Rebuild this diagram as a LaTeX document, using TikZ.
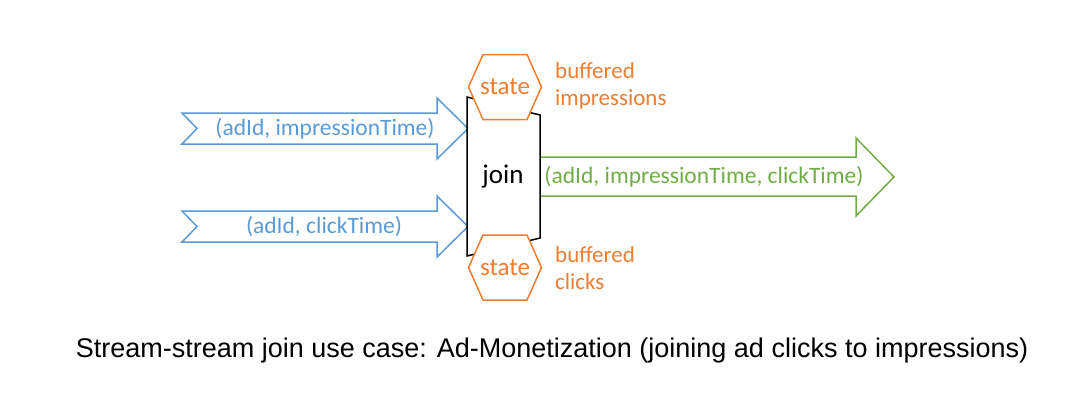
\documentclass[tikz,border=0pt]{standalone}
\usepackage{fontspec}
\setmainfont{Carlito}
\newfontfamily\captionfont{Liberation Sans}
\definecolor{streamblue}{RGB}{91,155,213}
\definecolor{stateorange}{RGB}{237,125,49}
\definecolor{outgreen}{RGB}{112,173,71}
\begin{document}
\begin{tikzpicture}[x=1pt, y=-1pt]
        % Define styles
        \tikzstyle{inflow}=[draw=streamblue, line width=1.5pt, fill=white]
        \tikzstyle{outflow}=[draw=outgreen, line width=1.5pt, fill=white]
        \tikzstyle{joinbox}=[draw=black, line width=1.5pt, fill=white]
        \tikzstyle{statebox}=[draw=stateorange, line width=1.5pt, fill=white]
        \tikzstyle{flowtext}=[inner sep=0pt, font=\fontsize{23.5}{27}\selectfont]
        \tikzstyle{notetext}=[inner sep=0pt, font=\fontsize{23}{27}\selectfont, text=stateorange, align=left, anchor=west]

        \useasboundingbox (0,0) rectangle (1080,400);

        % Input streams
        \foreach \cy in {128.5, 226.5} {
            \draw[inflow] (182,\cy-15.5) -- (437,\cy-15.5) -- (437,\cy-30.5) -- (468,\cy)
                -- (437,\cy+30.5) -- (437,\cy+15.5) -- (182,\cy+15.5) -- (197,\cy) -- cycle;
        }
        \node[flowtext, text=streamblue] (impressions) at (325,128.5) {(adId, impressionTime)};
        \node[flowtext, text=streamblue] (clicks) at (324,226.5) {(adId, clickTime)};

        % Output stream
        \draw[outflow] (540,157) -- (856,157) -- (856,138) -- (894,177)
            -- (856,216) -- (856,196) -- (540,196);
        \node[flowtext, text=outgreen] (joined) at (704,177) {(adId, impressionTime, clickTime)};

        % Join operator
        \draw[joinbox] (467,97) -- (540,115) -- (540,238) -- (467,256) -- cycle;
        \node[flowtext, font=\fontsize{27}{30}\selectfont] (join) at (503,177) {join};

        % State stores
        \foreach \cy/\nm in {87/topstate, 267.5/bottomstate} {
            \draw[statebox] (468.5,\cy) -- ++(14.5,-32.5) -- ++(44,0) -- ++(14.5,32.5)
                -- ++(-14.5,32.5) -- ++(-44,0) -- cycle;
            \node[flowtext, font=\fontsize{25}{28}\selectfont, text=stateorange] (\nm) at (505,\cy) {state};
        }
        \node[notetext] (bufimp) at (555,86) {buffered\\impressions};
        \node[notetext] (bufclk) at (555,268) {buffered\\clicks};

        % Caption
        \node[anchor=base, inner sep=0pt, font=\captionfont\fontsize{27}{32}\selectfont] (caption) at (552,357)
            {Stream-stream join use case: Ad-Monetization (joining ad clicks to impressions)};
\end{tikzpicture}
\end{document}
